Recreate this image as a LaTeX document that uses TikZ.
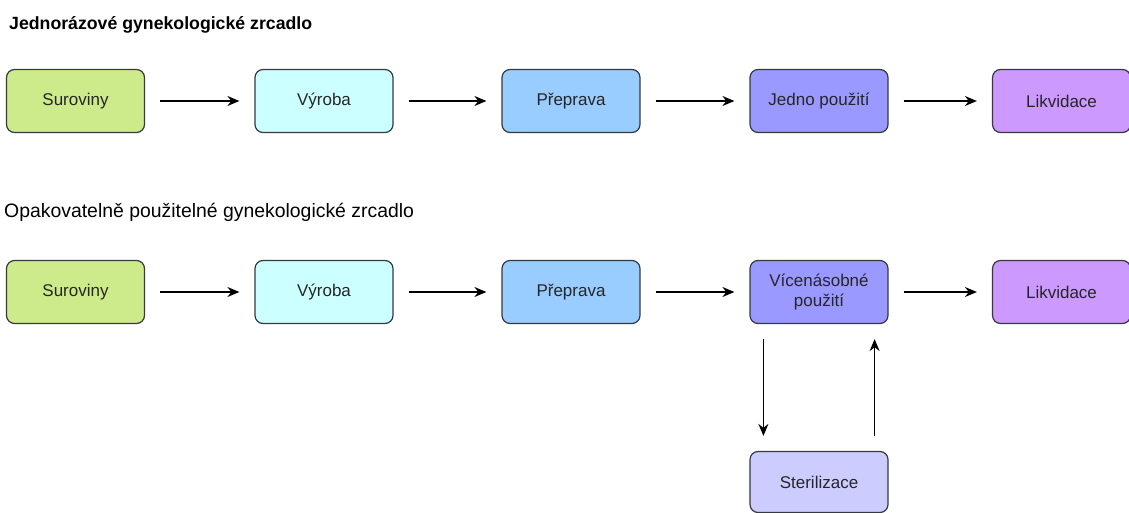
\documentclass[tikz,border=0pt]{standalone}
\usepackage{fontspec}
\setmainfont{Liberation Sans}
\usetikzlibrary{arrows.meta}
\definecolor{bordc}{HTML}{36393D}
\definecolor{cgreen}{HTML}{CDEB8B}
\definecolor{ccyan}{HTML}{CCFFFF}
\definecolor{cblue}{HTML}{99CCFF}
\definecolor{cviolet}{HTML}{9999FF}
\definecolor{cpurple}{HTML}{CC99FF}
\definecolor{clav}{HTML}{CCCCFF}
\tikzset{
  stage/.style={draw=bordc, line width=1.2pt, rounded corners=8pt, minimum width=138pt, minimum height=63pt, align=center, font=\fontsize{17}{20}\selectfont, text=black!85, inner sep=2pt},
  flow/.style={-{Stealth[length=12pt,width=10pt]}, line width=1.2pt, shorten >=15pt, shorten <=15pt},
  title/.style={anchor=base west, inner sep=0pt}
}
\begin{document}
\begin{tikzpicture}[x=1pt,y=-1pt]
\useasboundingbox (0,0) rectangle (1129,513);
\node[title, font=\fontsize{17.7}{20}\bfseries] (t1) at (9,30) {Jednorázové gynekologické zrcadlo};
\node[title, font=\fontsize{19.4}{22}\selectfont] (t2) at (4,218) {Opakovatelně použitelné gynekologické zrcadlo};
% row 1
\node[stage, fill=cgreen] (a1) at (75.5,101) {Suroviny};
\node[stage, fill=ccyan] (b1) at (324,101) {Výroba};
\node[stage, fill=cblue] (c1) at (571,101) {Přeprava};
\node[stage, fill=cviolet] (d1) at (819,101) {Jedno použití};
\node[stage, fill=cpurple] (e1) at (1061.5,101) {Likvidace};
\draw[flow] (a1) -- (b1);
\draw[flow] (b1) -- (c1);
\draw[flow] (c1) -- (d1);
\draw[flow] (d1) -- (e1);
% row 2
\node[stage, fill=cgreen] (a2) at (75.5,292) {Suroviny};
\node[stage, fill=ccyan] (b2) at (324,292) {Výroba};
\node[stage, fill=cblue] (c2) at (571,292) {Přeprava};
\node[stage, fill=cviolet] (d2) at (819,292) {Vícenásobné\\použití};
\node[stage, fill=cpurple] (e2) at (1061.5,292) {Likvidace};
\node[stage, fill=clav, minimum height=61pt] (s2) at (819,482) {Sterilizace};
\draw[flow] (a2) -- (b2);
\draw[flow] (b2) -- (c2);
\draw[flow] (c2) -- (d2);
\draw[flow] (d2) -- (e2);
\draw[flow] ([xshift=14pt]d2.south west) -- ([xshift=14pt]s2.north west);
\draw[flow] ([xshift=-14pt]s2.north east) -- ([xshift=-14pt]d2.south east);
\end{tikzpicture}
\end{document}
